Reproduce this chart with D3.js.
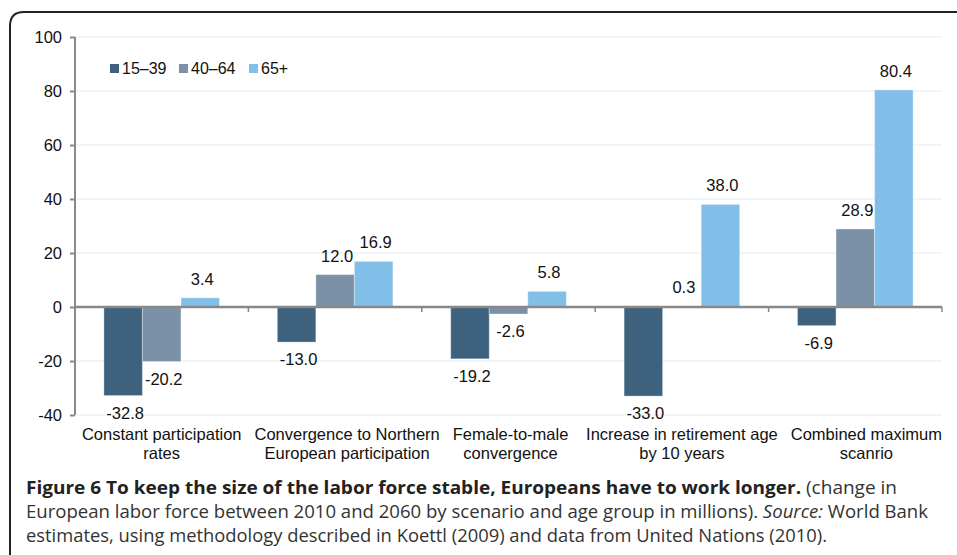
<!DOCTYPE html>
<html lang="en">
<head>
  <meta charset="UTF-8">
  <title>Figure 6</title>
  <script src="https://d3js.org/d3.v7.min.js"></script>
  <style>
    body { margin: 0; background: #fff; }
    svg { display: block; }
    .tick text, .lbl, .legend text { font-family: "Liberation Sans", Arial, Helvetica, sans-serif; font-size: 16.5px; fill: #111; }
    .legend text { font-size: 16px; }
    .caption { font-family: "Open Sans", sans-serif; font-size: 18px; fill: #333; }
  </style>
</head>
<body>
  <div id="chart"></div>
  <script>
    const categories = [
      ["Constant participation", "rates"],
      ["Convergence to Northern", "European participation"],
      ["Female-to-male", "convergence"],
      ["Increase in retirement age", "by 10 years"],
      ["Combined maximum", "scanrio"]
    ];
    const groups = ["15–39", "40–64", "65+"];
    const v15to39 = [-32.8, -13.0, -19.2, -33.0, -6.9];
    const v40to64 = [-20.2, 12.0, -2.6, 0.3, 28.9];
    const v65plus = [3.4, 16.9, 5.8, 38.0, 80.4];
    const yTicks = [-40, -20, 0, 20, 40, 60, 80, 100];
    const colors = ["#3e627d", "#7b91a8", "#82bfe8"];

    const series = [v15to39, v40to64, v65plus];
    const width = 957, height = 555;
    const x0 = 75, x1 = 942, yTop = 37, yBot = 415;

    const svg = d3.select("#chart").append("svg")
      .attr("width", width).attr("height", height);

    // frame with rounded corner
    svg.append("path")
      .attr("d", `M10,${height + 2} L10,26 Q10,12 24,12 L${width + 2},12`)
      .attr("fill", "none").attr("stroke", "#222").attr("stroke-width", 2);

    const y = d3.scaleLinear().domain([-40, 100]).range([yBot, yTop]);
    const x = d3.scaleBand().domain(d3.range(categories.length)).range([x0, x1]);
    const xInner = d3.scaleBand().domain(d3.range(groups.length))
      .range([0, x.bandwidth()]).paddingOuter(0.75).paddingInner(0);

    // gridlines
    svg.append("g").selectAll("line")
      .data(yTicks.filter(d => d !== 0))
      .join("line")
      .attr("x1", x0).attr("x2", x1)
      .attr("y1", d => y(d)).attr("y2", d => y(d))
      .attr("stroke", "#e4eaf2").attr("stroke-width", 1);

    // y axis
    const yAxis = svg.append("g")
      .attr("transform", `translate(${x0},0)`)
      .call(d3.axisLeft(y).tickValues(yTicks).tickFormat(d => String(d)).tickSize(5).tickPadding(8));
    yAxis.selectAll("path, line").attr("stroke", "#888").attr("stroke-width", 2);
    yAxis.select(".domain").attr("d", `M0,${yTop}V${yBot}`);

    // bars
    const bars = [];
    categories.forEach((c, i) => {
      series.forEach((s, j) => bars.push({ i, j, v: s[i] }));
    });

    svg.append("g").selectAll("rect")
      .data(bars)
      .join("rect")
      .attr("x", d => x(d.i) + xInner(d.j))
      .attr("width", xInner.bandwidth())
      .attr("y", d => y(Math.max(0, d.v)))
      .attr("height", d => Math.abs(y(d.v) - y(0)))
      .attr("fill", d => colors[d.j])
      .attr("stroke", "#ffffff").attr("stroke-opacity", 0.35).attr("stroke-width", 1);

    // value labels
    svg.append("g").selectAll("text")
      .data(bars)
      .join("text")
      .attr("class", "lbl")
      .attr("text-anchor", "middle")
      .attr("x", d => x(d.i) + xInner(d.j) + xInner.bandwidth() / 2 + 2)
      .attr("y", d => d.v >= 0 ? y(d.v) - 13 : y(d.v) + 23)
      .text(d => d.v.toFixed(1));

    // x axis (zero line)
    const xAxis = svg.append("g")
      .attr("transform", `translate(0,${y(0)})`);
    xAxis.append("line")
      .attr("x1", x0).attr("x2", x1)
      .attr("stroke", "#888").attr("stroke-width", 2.5);
    xAxis.selectAll("line.t")
      .data(d3.range(categories.length + 1))
      .join("line").attr("class", "t")
      .attr("x1", d => x0 + d * x.bandwidth()).attr("x2", d => x0 + d * x.bandwidth())
      .attr("y1", 0).attr("y2", 5)
      .attr("stroke", "#888").attr("stroke-width", 1.5);

    // category labels
    const cat = svg.append("g").selectAll("text")
      .data(categories)
      .join("text")
      .attr("class", "lbl")
      .attr("text-anchor", "middle")
      .attr("y", 440);
    cat.selectAll("tspan")
      .data(d => d)
      .join("tspan")
      .attr("dy", (d, k) => k === 0 ? 0 : 19)
      .text(d => d);

    // keep wrapped labels apart, pushing the right one over like the original
    const gap = 13;
    let prevRight = -Infinity;
    cat.each(function (d, i) {
      const w = d3.max(d3.select(this).selectAll("tspan").nodes(), n => n.getComputedTextLength());
      let cx = x(i) + x.bandwidth() / 2;
      if (cx - w / 2 < prevRight + gap) cx = prevRight + gap + w / 2;
      prevRight = cx + w / 2;
      d3.select(this).selectAll("tspan").attr("x", cx);
    });

    // legend
    const legendX = [110, 179, 249];
    const leg = svg.append("g").attr("class", "legend").selectAll("g")
      .data(groups)
      .join("g")
      .attr("transform", (d, i) => `translate(${legendX[i]},64)`);
    leg.append("rect").attr("width", 9).attr("height", 9).attr("fill", (d, i) => colors[i]);
    leg.append("text").attr("x", 12).attr("y", 10).text(d => d);

    // caption
    const cap = svg.append("g").attr("class", "caption");
    const l1 = cap.append("text").attr("x", 26).attr("y", 494)
      .attr("textLength", 871).attr("lengthAdjust", "spacingAndGlyphs");
    l1.append("tspan").attr("font-weight", "bold").attr("fill", "#222")
      .text("Figure 6 To keep the size of the labor force stable, Europeans have to work longer.");
    l1.append("tspan").text(" (change in");
    const l2 = cap.append("text").attr("x", 26).attr("y", 518)
      .attr("textLength", 902).attr("lengthAdjust", "spacingAndGlyphs");
    l2.append("tspan").text("European labor force between 2010 and 2060 by scenario and age group in millions). ");
    l2.append("tspan").attr("font-style", "italic").text("Source:");
    l2.append("tspan").text(" World Bank");
    cap.append("text").attr("x", 26).attr("y", 542)
      .attr("textLength", 801).attr("lengthAdjust", "spacingAndGlyphs")
      .text("estimates, using methodology described in Koettl (2009) and data from United Nations (2010).");
  </script>
</body>
</html>
